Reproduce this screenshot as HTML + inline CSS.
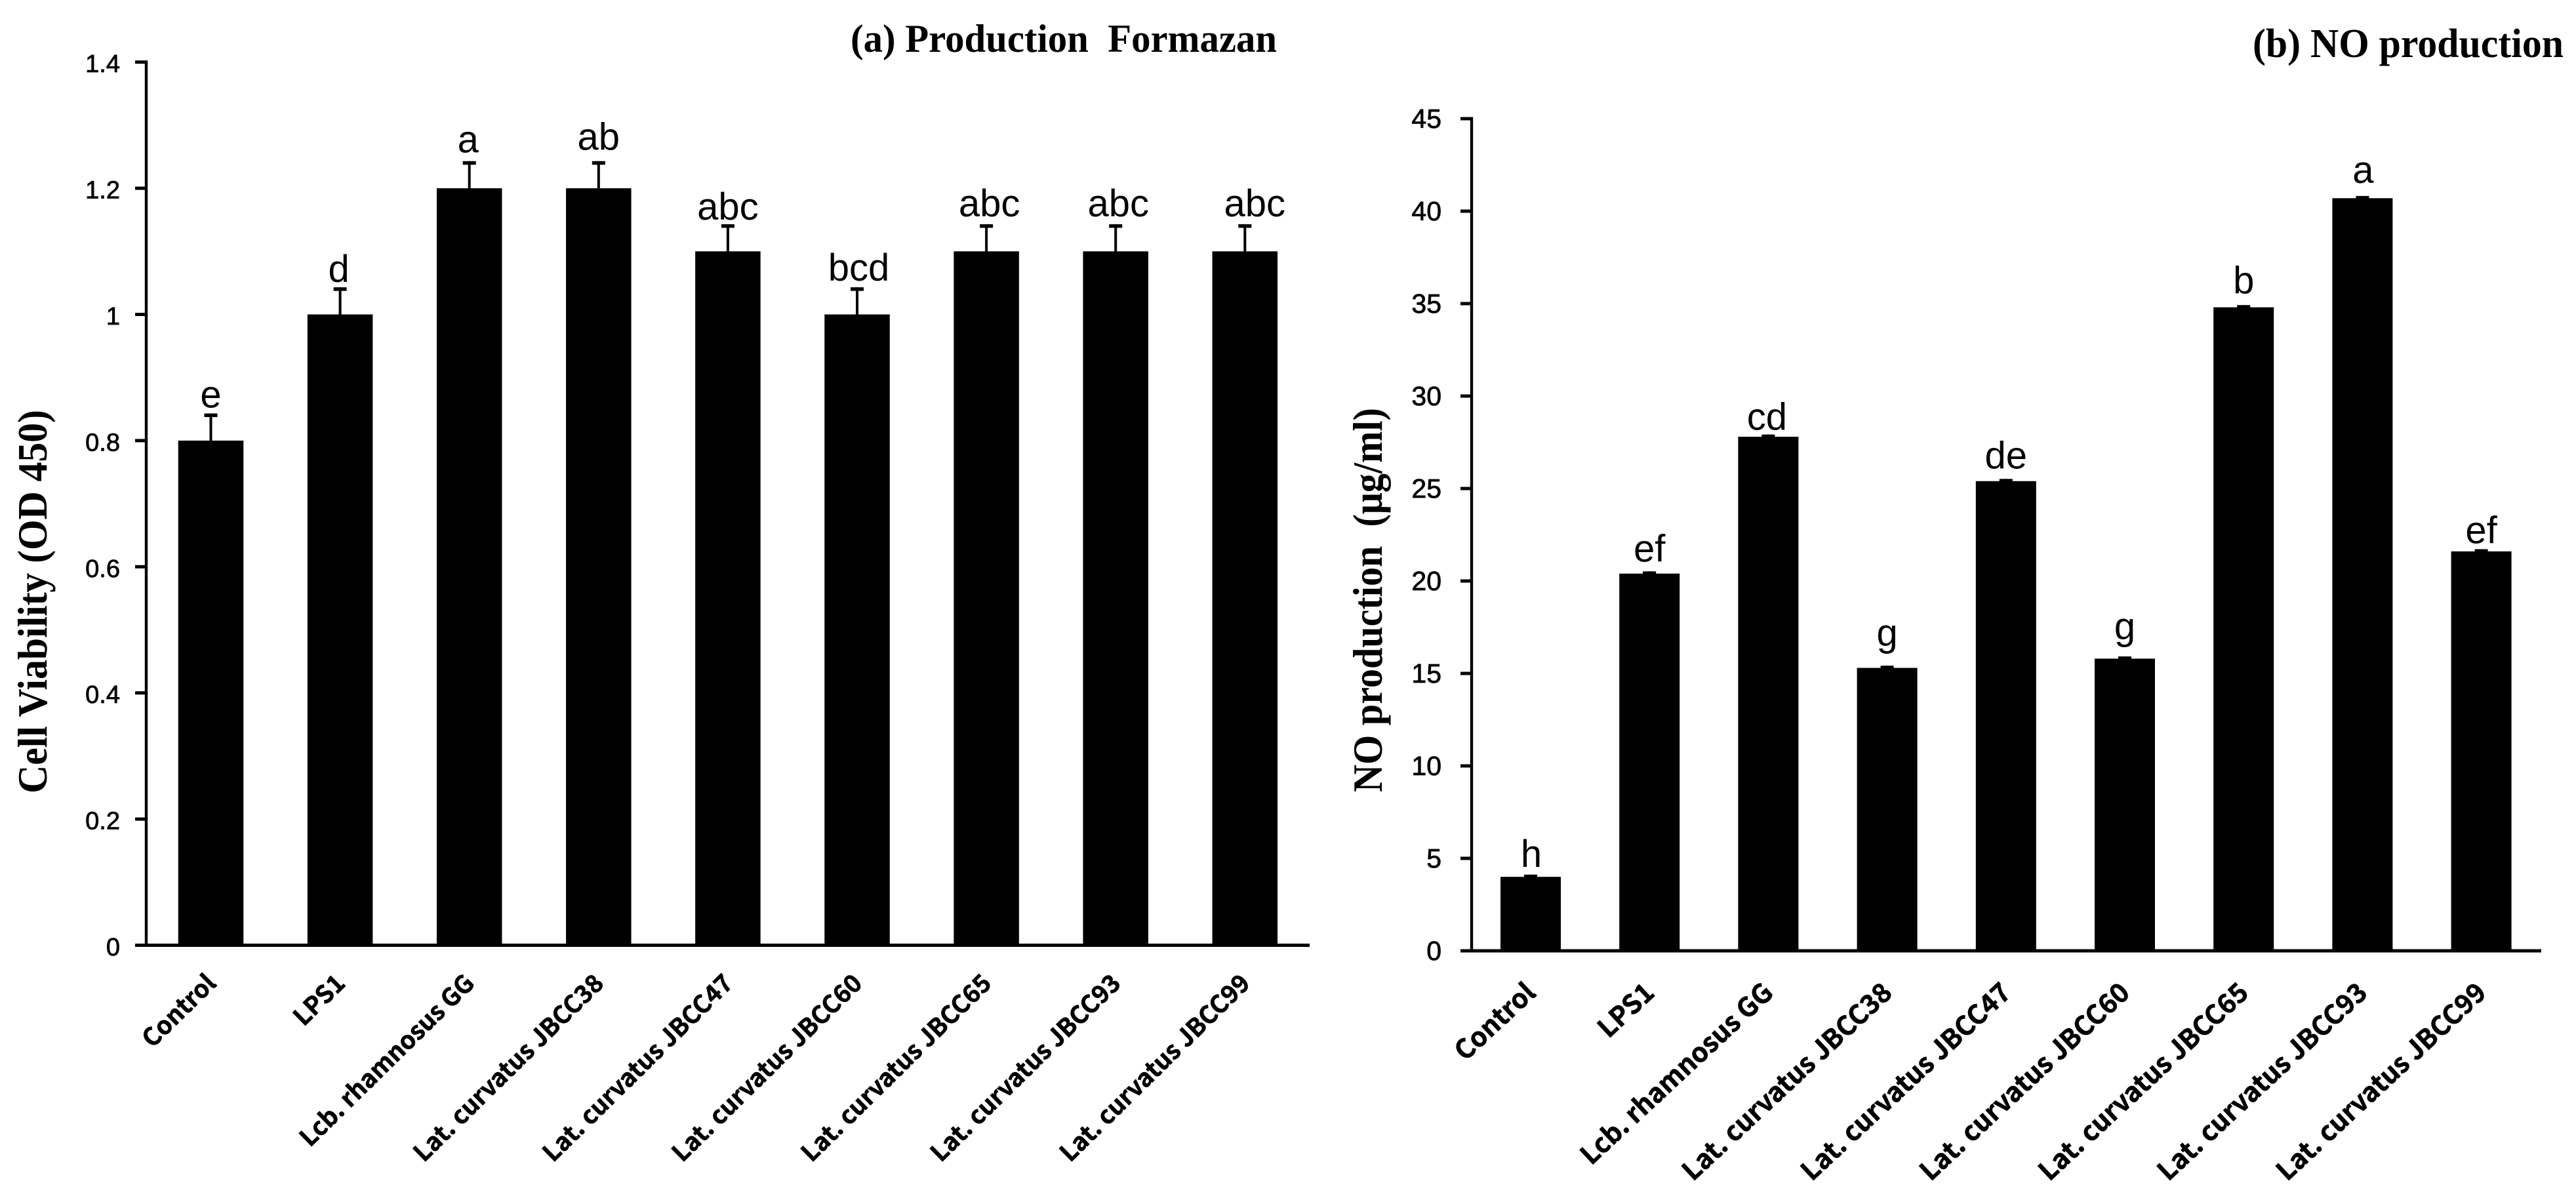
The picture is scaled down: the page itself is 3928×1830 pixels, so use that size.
<!DOCTYPE html>
<html lang="en">
<head>
<meta charset="utf-8">
<title>Production Formazan and NO production</title>
<style>
html,body{margin:0;padding:0;background:#fff;width:3928px;height:1830px;overflow:hidden}
svg{display:block}
.tick{font-family:"Liberation Sans",sans-serif;fill:#000;stroke:#000;stroke-width:.8px}
.letter{font-family:"Liberation Sans",sans-serif;font-size:58px;fill:#000}
.cat{font-family:"Noto Sans CJK KR","Liberation Sans",sans-serif;font-weight:700;fill:#000;stroke:#000;stroke-width:.7px}
.title{font-family:"Liberation Serif",serif;font-weight:700;fill:#000}
</style>
</head>
<body>
<svg id="fig" xmlns="http://www.w3.org/2000/svg" width="3928" height="1830" viewBox="0 0 3928 1830">
  <rect x="0" y="0" width="3928" height="1830" fill="#fff"/>
  <text class="title" x="1297" y="79" font-size="60" textLength="650" lengthAdjust="spacingAndGlyphs">(a) Production&#160;&#160;Formazan</text>
  <text class="title" x="3435" y="87" font-size="62" textLength="474" lengthAdjust="spacingAndGlyphs">(b) NO production</text>
  <text class="title" font-size="60" textLength="585" transform="translate(71,1210) rotate(-90) scale(1,1.06)">Cell Viability (OD 450)</text>
  <text class="title" font-size="60" textLength="586" lengthAdjust="spacingAndGlyphs" transform="translate(2107,1208) rotate(-90) scale(1,1.06)">NO production&#160;&#160;(&#956;g/ml)</text>
  <g id="panel-a"></g>
  <g id="panel-b"></g>
</svg>
<script>
const categories = ["Control","LPS1","Lcb. rhamnosus GG","Lat. curvatus JBCC38","Lat. curvatus JBCC47","Lat. curvatus JBCC60","Lat. curvatus JBCC65","Lat. curvatus JBCC93","Lat. curvatus JBCC99"];

const viabilityValues = [0.8,1.0,1.2,1.2,1.1,1.0,1.1,1.1,1.1];
const viabilityErrors = [0.043,0.043,0.043,0.043,0.043,0.043,0.043,0.043,0.043];
const viabilityLetters = ["e","d","a","ab","abc","bcd","abc","abc","abc"];
const viabilityTicks = [0,0.2,0.4,0.6,0.8,1,1.2,1.4];

const nitricValues = [4.0,20.4,27.8,15.3,25.4,15.8,34.8,40.7,21.6];
const nitricErrors = [0.12,0.12,0.12,0.12,0.12,0.12,0.12,0.12,0.12];
const nitricLetters = ["h","ef","cd","g","de","g","b","a","ef"];
const nitricTicks = [0,5,10,15,20,25,30,35,40,45];

const SVG_NS = "http://www.w3.org/2000/svg";

function makeRect(parent, x, y, w, h) {
  const el = document.createElementNS(SVG_NS, "rect");
  el.setAttribute("x", x);
  el.setAttribute("y", y);
  el.setAttribute("width", w);
  el.setAttribute("height", h);
  el.setAttribute("fill", "#000");
  parent.appendChild(el);
  return el;
}

function makeText(parent, cls, str) {
  const el = document.createElementNS(SVG_NS, "text");
  el.setAttribute("class", cls);
  el.textContent = str;
  parent.appendChild(el);
  return el;
}

function drawPanel(parent, values, errors, letters, ticks, opt) {
  const yScale = v => opt.y0 - v * opt.unit;
  const xBand = i => opt.xFirst + i * opt.step;

  const yAxis = makeRect(parent, opt.axisX - 2.2, yScale(ticks[ticks.length - 1]) - 2.5, 4.4, opt.y0 - yScale(ticks[ticks.length - 1]) + 2.5);
  
  

  const xAxis = makeRect(parent, opt.axisX - 15, opt.y0 - 2.5, opt.axisEnd - opt.axisX + 15, 5);
  
  

  ticks.forEach(t => {
    const y = yScale(t);
    const mark = makeRect(parent, opt.axisX - 17, y - 2.5, 17, 5);
    
    
    const label = makeText(parent, "tick", String(t));
    label.setAttribute("x", opt.tickRight);
    label.setAttribute("y", y + opt.tickDrop);
    label.setAttribute("text-anchor", "end");
    label.setAttribute("font-size", opt.tickSize);
    
    
  });

  values.forEach((v, i) => {
    const cx = xBand(i);
    const top = yScale(v);
    const errTop = yScale(v + errors[i]);

    const bar = makeRect(parent, cx - opt.barW / 2, top, opt.barW, opt.y0 - top);
    
    

    const stem = makeRect(parent, cx - 2, errTop, 4, top - errTop);
    
    

    const cap = makeRect(parent, cx - 10, errTop, 20, opt.capH);
    
    

    const letter = makeText(parent, "letter", letters[i]);
    letter.setAttribute("x", cx + opt.letterDx[i]);
    letter.setAttribute("y", errTop - opt.letterGap[i]);
    letter.setAttribute("text-anchor", "middle");
    
    

    const cat = makeText(parent, "cat", categories[i]);
    cat.setAttribute("text-anchor", "end");
    cat.setAttribute("font-size", opt.catSize);
    cat.setAttribute("transform", "translate(" + (cx + opt.catDx) + "," + opt.catY + ") rotate(" + opt.catAngle + ")");
    
    
  });
}

drawPanel(document.getElementById("panel-a"), viabilityValues, viabilityErrors, viabilityLetters, viabilityTicks, {
  y0: 1441.5, unit: 962, axisX: 223, axisEnd: 1997, xFirst: 321.5, step: 197.1, barW: 99.5,
  tickRight: 183, tickDrop: 15.5, tickSize: 38, capH: 5.5,
  letterDx: [0,-2,-2,0,0,2.5,4.5,4,15],
  letterGap: [9,8,13,17,7,10,12,12,12],
  catSize: 37.5, catDx: 10, catY: 1502, catAngle: -44.5
});

drawPanel(document.getElementById("panel-b"), nitricValues, nitricErrors, nitricLetters, nitricTicks, {
  y0: 1450, unit: 28.2, axisX: 2244, axisEnd: 3875, xFirst: 2334, step: 181.2, barW: 92,
  tickRight: 2198, tickDrop: 14, tickSize: 41, capH: 4,
  letterDx: [1,0,-2,0,0,0,0,1,0],
  letterGap: [12,15,7,30,16,26,18,20,9],
  catSize: 40.5, catDx: 10, catY: 1517, catAngle: -43
});
</script>
</body>
</html>
